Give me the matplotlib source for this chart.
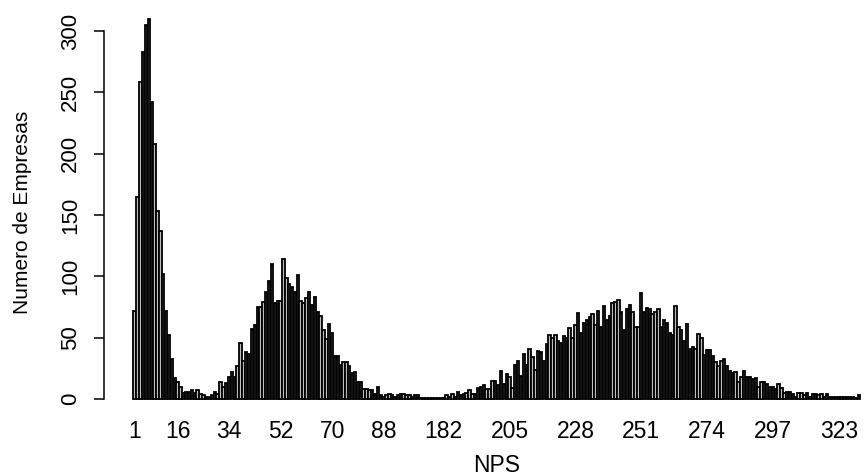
import matplotlib
matplotlib.use("Agg")
import matplotlib.pyplot as plt
import numpy as np

# ---- data -------------------------------------------------------------
# NPS categories (x axis, one bar each)
nps_low = list(range(1, 101))                      # 1 .. 100
nps_high = (list(range(174, 305)) + list(range(306, 312)) +
            list(range(313, 318)) + list(range(319, 331)))

# Number of companies per NPS value
counts_low = [
    72, 165, 258, 283, 305, 310, 242, 208, 153, 137, 102, 72, 52, 33, 17, 14, 10, 5,
    6, 6, 7, 5, 7, 4, 3, 2, 2, 3, 6, 4, 14, 10, 13, 18, 22, 18, 27, 46, 31, 38, 37,
    57, 60, 75, 75, 79, 87, 96, 110, 78, 80, 80, 114,
    99, 94, 91, 87, 101, 80, 78, 82, 87, 77, 83, 71, 68, 56, 49, 61, 54, 35, 35, 28,
    30, 30, 27, 21, 22, 14, 14, 8, 8, 7, 7, 4, 10, 3, 2, 3, 4, 3,
    2, 3, 4, 4, 3, 3, 2, 3, 3,
]
counts_high = [
    1, 1, 1, 1, 1, 1, 1, 1, 1,
    3, 2, 4, 2, 6, 3, 4, 5, 7, 4, 4, 9, 10, 11, 8, 8, 15, 15, 11,
    23, 12, 20, 18, 9, 28, 31, 19, 37, 28, 41, 34, 24, 39, 38, 31, 45, 52, 50,
    52, 47, 46, 51, 50, 58, 50, 60, 70, 54, 62, 64, 67, 69, 60, 72, 59, 76, 64, 68,
    78, 79, 81, 71, 56, 73, 77, 71, 59, 59, 86, 71, 74, 73, 69, 71, 73, 59, 64, 62,
    54, 52, 76, 59, 56, 47, 61, 41, 42, 41, 53, 50, 36, 40, 40, 35,
    30, 27, 31, 33, 27, 23, 21, 22, 14, 18, 23, 18, 18, 16, 17, 10, 14, 14, 12, 10, 10,
    8, 12, 9, 5, 6, 6, 4, 2, 5, 5, 3, 5, 2, 4, 4, 3, 4, 2, 4, 2, 2, 2, 2, 2, 2, 2, 2,
    2, 1, 3,
]
shown_labels = [1, 16, 34, 52, 70, 88, 182, 205, 228, 251, 274, 297, 323]
y_ticks = [0, 50, 100, 150, 200, 250, 300]

categories = nps_low + nps_high
counts = counts_low + counts_high
n = min(len(categories), len(counts))
categories = categories[:n]
counts = counts[:n]

# ---- figure -----------------------------------------------------------
plt.rcParams['font.family'] = ['Liberation Sans', 'DejaVu Sans']
W, H = 864, 476
fig = plt.figure(figsize=(W / 100, H / 100), dpi=100)

# plot region in pixels (R-like, right side cropped off the image)
left_px, right_px, top_px, bottom_px = 104.4, 889.0, 3.5, 414.2
ax = fig.add_axes([left_px / W, 1 - bottom_px / H,
                   (right_px - left_px) / W, (bottom_px - top_px) / H])

space, width = 0.2, 1.0
centers = space + width / 2 + np.arange(n) * (space + width)
ax.bar(centers, counts, width=width, color='#BEBEBE', edgecolor='black',
       linewidth=1.3, align='center')

x_lo, x_hi = centers[0] - 0.5, centers[-1] + 0.5
ext = 0.04 * (x_hi - x_lo)
ax.set_xlim(x_lo - ext, x_hi + ext)
ymax = 310
ax.set_ylim(-0.04 * ymax, ymax * 1.04)

for s in ['top', 'right', 'bottom']:
    ax.spines[s].set_visible(False)
ax.spines['left'].set_bounds(0, 300)
ax.spines['left'].set_linewidth(1.1)

ax.set_yticks(y_ticks)
ax.set_yticklabels([str(v) for v in y_ticks], rotation=90, va='center')
ax.tick_params(axis='y', length=7.2, width=1.1, pad=9.5, labelsize=16)

pos = [centers[categories.index(v)] for v in shown_labels]
ax.set_xticks(pos)
ax.set_xticklabels([str(v) for v in shown_labels])
ax.tick_params(axis='x', length=0, pad=4.5, labelsize=16.5)

fig.text((left_px + right_px) / 2 / W, 1 - 465 / H, 'NPS', ha='center', va='center',
         fontsize=16.5)
fig.text(23 / W, 1 - 212 / H, 'Numero de Empresas', ha='center', va='center',
         rotation=90, fontsize=15)

fig.savefig('out.png', dpi=100)
